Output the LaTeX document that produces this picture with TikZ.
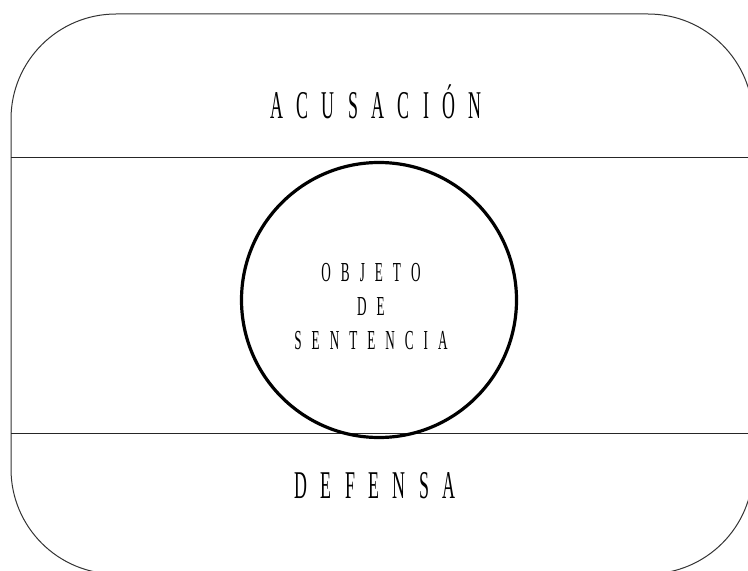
\documentclass[tikz,border=0pt]{standalone}
\usepackage{fontspec}
\newfontfamily\narrowserif{Liberation Serif}[FakeStretch=0.48]
\newfontfamily\tallserif{Liberation Serif}[FakeStretch=0.455]
\tikzset{
    frame line/.style={draw=black!80, line width=0.75pt},
    band line/.style={draw=black!85, line width=0.8pt},
    big label/.style={font={\tallserif\fontsize{29.5}{34}\selectfont\spaceskip=10pt}, inner sep=0pt, anchor=base},
    small label/.style={font={\narrowserif\fontsize{20.6}{25.5}\selectfont\spaceskip=7.5pt}, inner sep=0pt, align=center},
}
\begin{document}
\begin{tikzpicture}[x=0.75pt,y=-0.75pt]
	\useasboundingbox (0,0) rectangle (748,570);
	\clip (0,0) rectangle (748,570);
	% outer frame and the two bands
	\draw[frame line, rounded corners=78.75pt] (11,14) rectangle (753,574);
	\coordinate (top l) at (11,157.5);
	\coordinate (top r) at (760,157.5);
	\coordinate (bot l) at (11,433.5);
	\coordinate (bot r) at (760,433.5);
	\draw[band line] (top l) -- (top r);
	\draw[band line] (bot l) -- (bot r);
	\node[draw, circle, line width=2.4pt, minimum size=275*0.75pt, inner sep=0pt] (objeto) at (379,300) {};
	\node[big label] (acusacion) at (376,118.5) {A C U S A C I Ó N};
	\node[small label] (sentencia) at (371,306.5) {O B J E T O\\D E\\S E N T E N C I A};
	\node[big label] (defensa) at (375,498) {D E F E N S A};
\end{tikzpicture}
\end{document}
